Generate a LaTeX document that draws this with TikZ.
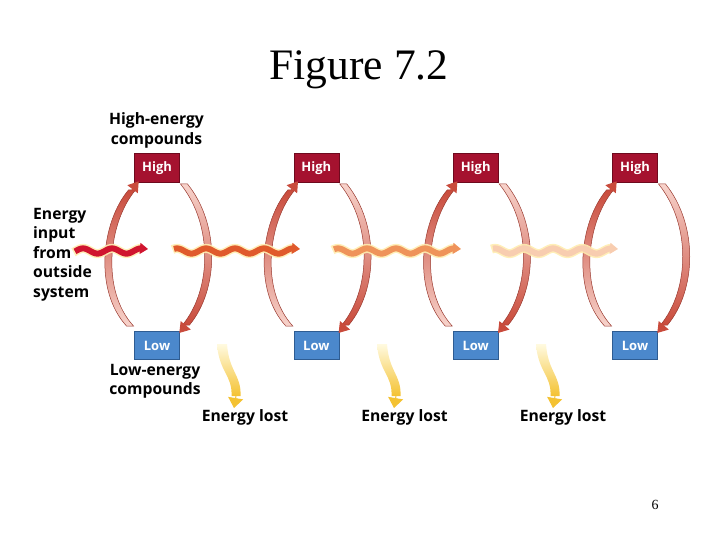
\documentclass[tikz,border=0pt]{standalone}
\usepackage{fontspec}
\setmainfont{Liberation Serif}
\newfontfamily\labfont{Open Sans}
\usetikzlibrary{arrows.meta,calc}
\definecolor{hired}{HTML}{A5122F}
\definecolor{hiredline}{HTML}{6E0A1E}
\definecolor{loblue}{HTML}{4B88CC}
\definecolor{loblueline}{HTML}{2E5C92}
\definecolor{arcdark}{HTML}{C94B3C}
\definecolor{arcpale}{HTML}{F7D3CB}
\definecolor{arcline}{HTML}{9A3A30}
\definecolor{wone}{HTML}{D0152F}
\definecolor{wtwo}{HTML}{E05A2C}
\definecolor{wthree}{HTML}{EF935A}
\definecolor{wfour}{HTML}{F8CDB0}
\definecolor{glow}{HTML}{FFEDB0}
\definecolor{losttop}{HTML}{FFFAE0}
\definecolor{lostbot}{HTML}{F4C232}
\begin{document}
\begin{tikzpicture}[x=1pt,y=-1pt,
  lab/.style={font=\labfont\bfseries\fontsize{15.7}{19.5}\selectfont, inner sep=0pt, text=black},
  boxtext/.style={inner sep=0pt, minimum width=45pt, text=white, line width=0.6pt,
     font=\labfont\bfseries\fontsize{13}{14}\selectfont},
  hibox/.style={boxtext, fill=hired, draw=hiredline, minimum height=29pt},
  lobox/.style={boxtext, fill=loblue, draw=loblueline, minimum height=27.5pt},
  band/.style={draw=arcline, line width=0.5pt},
  arctip/.style={-{Triangle[width=13pt,length=10pt]}, draw=arcdark, line width=1pt},
  losttip/.style={-{Triangle[width=15pt,length=10pt]}, draw=lostbot, line width=1pt},
  wavebody/.style={line width=6pt},
  waveglow/.style={draw=glow, line width=9pt, opacity=0.9}
]
\useasboundingbox (0,0) rectangle (720,540);

% title and page number
\node[font=\fontsize{43.5}{48}\selectfont, anchor=base, inner sep=0pt] (title) at (359,80) {Figure 7.2};
\node[font=\fontsize{14}{16}\selectfont, anchor=base, inner sep=0pt] (page) at (655,509) {6};

% boxes
\foreach \i/\cx in {1/157,2/316.3,3/475.7,4/635}{
  \node[hibox] (h\i) at (\cx,168) {High};
  \node[lobox] (l\i) at (\cx,345.5) {Low};
}

% cycle arcs
\foreach \i/\cx in {1/157,2/316.3,3/475.7,4/635}{
  % left arc: Low -> High (pale at bottom, dark at top)
  \shade[band, top color=arcdark, bottom color=arcpale]
    (\cx-30.5,326) .. controls (\cx-63.5,290) and (\cx-55.5,222) .. (\cx-28.5,190)
    -- (\cx-21.5,190) .. controls (\cx-48.5,222) and (\cx-56.5,290) .. (\cx-23.5,326) -- cycle;
  \draw[arctip] (\cx-25,190) -- ([shift={(4.5,-1.5)}]h\i.south west);
  % right arc: High -> Low (pale at top, dark at bottom)
  \shade[band, top color=arcpale, bottom color=arcdark]
    (\cx+23.5,184) .. controls (\cx+56.5,225) and (\cx+54.5,290) .. (\cx+25.5,325)
    -- (\cx+32.5,325) .. controls (\cx+61.5,290) and (\cx+63.5,225) .. (\cx+30.5,184) -- cycle;
  \draw[arctip] (\cx+29,325) -- ([shift={(-0.5,1.5)}]l\i.north east);
}

% wavy energy arrows
\foreach \xa/\xb/\col in {75/148/wone,174/300/wtwo,334/461/wthree,493/618/wfour}{
  \draw[waveglow] plot[domain=\xa-1.5:\xb-6, samples=90, smooth]
     (\x, {251-2.6*cos((\x-\xb+7)/29*360)});
  \draw[wavebody, draw=\col] plot[domain=\xa:\xb-7, samples=90, smooth]
     (\x, {251-2.6*cos((\x-\xb+7)/29*360)});
  \coordinate (ws) at (\xb-8,248.4);
  \coordinate (we) at (\xb,249);
  \draw[-{Triangle[width=11pt,length=8pt]}, draw=\col, line width=1pt] (ws) -- (we);
}

% energy lost arrows
\foreach \x/\j in {222/1,382/2,541/3}{
  \shade[top color=losttop, bottom color=lostbot]
    (\x-5,344) .. controls (\x-3,372) and (\x+10.5,375) .. (\x+9.5,396)
    -- (\x+18.5,396) .. controls (\x+19.5,375) and (\x+7,372) .. (\x+5,344) -- cycle;
  \coordinate (ls\j) at (\x+14,396);
  \coordinate (le\j) at (\x+12,408);
  \draw[losttip] (ls\j) -- (le\j);
}

% labels
\node[lab, align=center] (hec) at (156.5,130.5) {High-energy\\compounds};
\node[lab, align=center] (lec) at (155,381.5) {Low-energy\\compounds};
\node[lab, align=left, anchor=west] (inp) at (33,254.5) {Energy\\input\\from\\outside\\system};
\node[lab] (lost1) at (245,417) {Energy lost};
\node[lab] (lost2) at (404.5,417) {Energy lost};
\node[lab] (lost3) at (563,417) {Energy lost};
\end{tikzpicture}
\end{document}
